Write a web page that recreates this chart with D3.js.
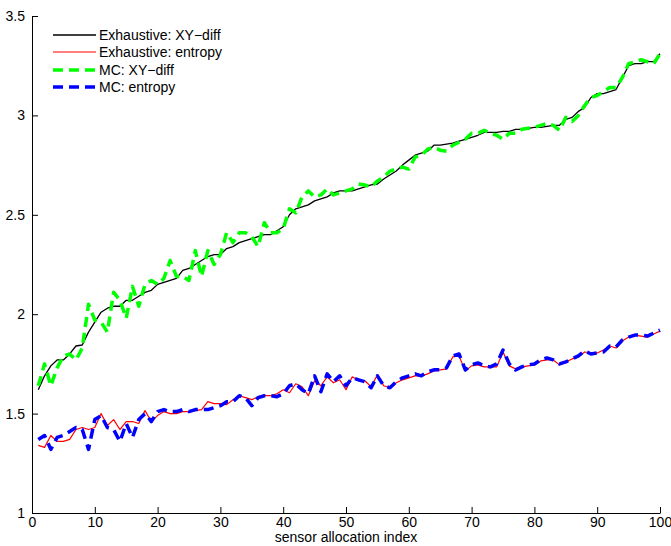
<!DOCTYPE html>
<html>
<head>
<meta charset="utf-8">
<script src="https://cdn.jsdelivr.net/npm/d3@7"></script>
<style>
  html, body { margin: 0; padding: 0; background: #fff; }
  svg { display: block; font-family: "Liberation Sans", Arial, Helvetica, sans-serif; }
</style>
</head>
<body>
<svg id="chart" width="671" height="546"></svg>
<script>
// ---- data ----
const xValues = d3.range(1, 101);

const exhaustiveXY = [
  1.62, 1.69, 1.74, 1.77, 1.77, 1.80, 1.84, 1.845, 1.91, 1.96,
  2.01, 2.03, 2.04, 2.04, 2.07, 2.07, 2.09, 2.11, 2.12, 2.15,
  2.16, 2.17, 2.18, 2.22, 2.23, 2.25, 2.27, 2.29, 2.30, 2.30,
  2.33, 2.34, 2.36, 2.37, 2.38, 2.39, 2.40, 2.40, 2.42, 2.44,
  2.50, 2.53, 2.54, 2.55, 2.57, 2.58, 2.59, 2.61, 2.62, 2.62,
  2.62, 2.63, 2.64, 2.65, 2.655, 2.68, 2.70, 2.72, 2.75, 2.775,
  2.80, 2.81, 2.82, 2.85, 2.85, 2.855, 2.86, 2.87, 2.88, 2.89,
  2.90, 2.915, 2.915, 2.915, 2.92, 2.92, 2.93, 2.93, 2.935, 2.94,
  2.94, 2.945, 2.95, 2.95, 2.98, 2.99, 3.02, 3.04, 3.09, 3.11,
  3.11, 3.12, 3.13, 3.19, 3.25, 3.26, 3.26, 3.27, 3.27, 3.31
];

const exhaustiveEntropy = [
  1.34, 1.33, 1.39, 1.36, 1.36, 1.37, 1.42, 1.43, 1.42, 1.43,
  1.50, 1.44, 1.47, 1.42, 1.46, 1.46, 1.45, 1.515, 1.46, 1.49,
  1.51, 1.50, 1.50, 1.51, 1.51, 1.515, 1.52, 1.56, 1.55, 1.55,
  1.545, 1.57, 1.59, 1.58, 1.57, 1.585, 1.59, 1.59, 1.60, 1.62,
  1.605, 1.65, 1.635, 1.59, 1.665, 1.64, 1.685, 1.655, 1.67, 1.62,
  1.685, 1.665, 1.665, 1.635, 1.695, 1.64, 1.63, 1.655, 1.67, 1.68,
  1.69, 1.69, 1.70, 1.715, 1.72, 1.725, 1.785, 1.79, 1.715, 1.74,
  1.745, 1.735, 1.735, 1.735, 1.81, 1.74, 1.725, 1.735, 1.74, 1.745,
  1.765, 1.77, 1.77, 1.745, 1.76, 1.775, 1.785, 1.81, 1.805, 1.805,
  1.82, 1.84, 1.83, 1.865, 1.885, 1.895, 1.89, 1.885, 1.90, 1.915
];

const mcXY = [
  1.64, 1.75, 1.64, 1.73, 1.79, 1.80, 1.77, 1.83, 2.05, 1.97,
  1.96, 1.91, 2.11, 2.07, 1.98, 2.14, 2.04, 2.15, 2.17, 2.15,
  2.18, 2.27, 2.19, 2.19, 2.17, 2.32, 2.19, 2.32, 2.25, 2.30,
  2.41, 2.36, 2.41, 2.41, 2.39, 2.34, 2.46, 2.41, 2.41, 2.43,
  2.53, 2.51, 2.59, 2.62, 2.59, 2.60, 2.63, 2.60, 2.61, 2.62,
  2.63, 2.655, 2.65, 2.64, 2.67, 2.69, 2.72, 2.73, 2.74, 2.73,
  2.79, 2.80, 2.83, 2.84, 2.825, 2.82, 2.85, 2.865, 2.88, 2.91,
  2.91, 2.925, 2.91, 2.90, 2.88, 2.91, 2.91, 2.93, 2.935, 2.94,
  2.95, 2.96, 2.95, 2.925, 2.99, 2.97, 3.00, 3.05, 3.09, 3.10,
  3.12, 3.14, 3.14, 3.19, 3.26, 3.27, 3.28, 3.27, 3.26, 3.31
];

const mcEntropy = [
  1.37, 1.39, 1.32, 1.38, 1.39, 1.41, 1.43, 1.42, 1.32, 1.47,
  1.49, 1.43, 1.42, 1.36, 1.45, 1.38, 1.47, 1.50, 1.46, 1.51,
  1.52, 1.51, 1.51, 1.52, 1.51, 1.52, 1.52, 1.52, 1.53, 1.54,
  1.56, 1.56, 1.59, 1.58, 1.54, 1.58, 1.59, 1.59, 1.585, 1.60,
  1.64, 1.65, 1.62, 1.60, 1.69, 1.61, 1.70, 1.66, 1.69, 1.64,
  1.68, 1.67, 1.66, 1.63, 1.69, 1.64, 1.63, 1.66, 1.68, 1.69,
  1.70, 1.69, 1.71, 1.72, 1.72, 1.73, 1.79, 1.80, 1.72, 1.745,
  1.755, 1.74, 1.735, 1.75, 1.82, 1.75, 1.72, 1.735, 1.745, 1.75,
  1.77, 1.78, 1.77, 1.75, 1.76, 1.775, 1.79, 1.815, 1.80, 1.805,
  1.81, 1.84, 1.835, 1.87, 1.885, 1.895, 1.895, 1.89, 1.905, 1.92
];

const xTicks = [0, 10, 20, 30, 40, 50, 60, 70, 80, 90, 100];
const yTicks = [1, 1.5, 2, 2.5, 3, 3.5];
const xLabel = "sensor allocation index";

const seriesNames = ["Exhaustive: XY\u2212diff", "Exhaustive: entropy", "MC: XY\u2212diff", "MC: entropy"];
const seriesData = [exhaustiveXY, exhaustiveEntropy, mcXY, mcEntropy];
const seriesColors = ["#000000", "#ff0000", "#00ff00", "#0000ff"];
const seriesWidths = [1.3, 1.2, 3.5, 3.5];
const seriesDash = [null, null, "10,6", "10,6"];

// ---- layout ----
const svg = d3.select("#chart");
const mLeft = 32, mRight = 660, mTop = 16, mBottom = 513;
const fontSize = 14;

const x = d3.scaleLinear().domain([0, 100]).range([mLeft, mRight]);
const y = d3.scaleLinear().domain([1, 3.5]).range([mBottom, mTop]);

// lines
const line = d3.line().x((d, i) => x(xValues[i])).y(d => y(d));
seriesData.forEach((arr, k) => {
  const p = svg.append("path")
    .datum(arr)
    .attr("d", line)
    .attr("fill", "none")
    .attr("stroke", seriesColors[k])
    .attr("stroke-width", seriesWidths[k])
    .attr("stroke-linejoin", "round");
  if (seriesDash[k]) p.attr("stroke-dasharray", seriesDash[k]);
});

// axes
const xAxis = d3.axisBottom(x).tickValues(xTicks).tickFormat(d3.format("d"))
  .tickSizeInner(-6).tickSizeOuter(0).tickPadding(4);
const yAxis = d3.axisLeft(y).tickValues(yTicks).tickFormat(d => String(d))
  .tickSizeInner(-6).tickSizeOuter(0).tickPadding(7);

const gx = svg.append("g").attr("transform", `translate(0,${mBottom})`).call(xAxis);
const gy = svg.append("g").attr("transform", `translate(${mLeft},0)`).call(yAxis);
[gx, gy].forEach(g => {
  g.selectAll("path.domain").attr("stroke", "#000").attr("stroke-width", 1);
  g.selectAll(".tick line").attr("stroke", "#000").attr("stroke-width", 1);
  g.selectAll("text").attr("fill", "#000").style("font-size", fontSize + "px")
    .style("font-family", "'Liberation Sans', Arial, sans-serif");
});

// x axis title
svg.append("text")
  .attr("x", (mLeft + mRight) / 2)
  .attr("y", 542)
  .attr("text-anchor", "middle")
  .style("font-size", fontSize + "px")
  .text(xLabel);

// legend
const legend = svg.append("g");
const legRows = [35, 52, 70, 87];
seriesNames.forEach((name, k) => {
  const ly = legRows[k];
  const l = legend.append("line")
    .attr("x1", 53).attr("x2", 96)
    .attr("y1", ly).attr("y2", ly)
    .attr("stroke", seriesColors[k])
    .attr("stroke-width", seriesWidths[k]);
  if (seriesDash[k]) l.attr("stroke-dasharray", seriesDash[k]);
  legend.append("text")
    .attr("x", 99).attr("y", ly)
    .attr("dy", "0.35em")
    .style("font-size", fontSize + "px")
    .text(name);
});
</script>
</body>
</html>
